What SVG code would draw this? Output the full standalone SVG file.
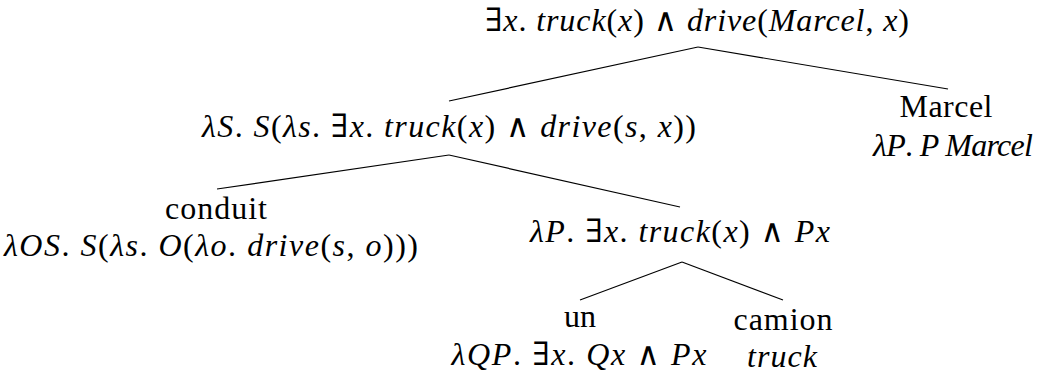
<svg xmlns="http://www.w3.org/2000/svg" width="1041" height="376" viewBox="0 0 1041 376">
<style>
.t{fill:#000;text-anchor:middle}
.i{font-style:italic}
.e{stroke:#000;stroke-width:1.2;fill:none}
</style>
<rect width="1041" height="376" fill="#fff"/>
<g id="connectors">
<line class="e" x1="698" y1="47" x2="449" y2="101"/>
<line class="e" x1="698" y1="47" x2="948" y2="89"/>
<line class="e" x1="449" y1="155" x2="217" y2="189"/>
<line class="e" x1="449" y1="155" x2="680" y2="207"/>
<line class="e" x1="682" y1="262" x2="580" y2="300"/>
<line class="e" x1="682" y1="262" x2="783" y2="300"/>
</g>
<g id="nodes" font-family="Liberation Serif, DejaVu Serif, serif" font-size="32">
<g id="n0">
<text class="t" x="697" y="31" textLength="424" lengthAdjust="spacing">∃<tspan class="i">x</tspan>. <tspan class="i">truck</tspan>(<tspan class="i">x</tspan>) ∧ <tspan class="i">drive</tspan>(<tspan class="i">Marcel</tspan>, <tspan class="i">x</tspan>)</text>
</g>
<g id="n1">
<text class="t" x="449" y="137" textLength="494" lengthAdjust="spacing"><tspan class="i">λS</tspan>. <tspan class="i">S</tspan>(<tspan class="i">λs</tspan>. ∃<tspan class="i">x</tspan>. <tspan class="i">truck</tspan>(<tspan class="i">x</tspan>) ∧ <tspan class="i">drive</tspan>(<tspan class="i">s</tspan>, <tspan class="i">x</tspan>))</text>
</g>
<g id="n2">
<text class="t" x="946" y="117" textLength="93" lengthAdjust="spacing">Marcel</text>
<text class="t" x="953" y="156" textLength="160" lengthAdjust="spacing"><tspan class="i">λP</tspan>. <tspan class="i">P Marcel</tspan></text>
</g>
<g id="n3">
<text class="t" x="216" y="219" textLength="102" lengthAdjust="spacing">conduit</text>
<text class="t" x="211" y="256" textLength="414" lengthAdjust="spacing"><tspan class="i">λOS</tspan>. <tspan class="i">S</tspan>(<tspan class="i">λs</tspan>. <tspan class="i">O</tspan>(<tspan class="i">λo</tspan>. <tspan class="i">drive</tspan>(<tspan class="i">s</tspan>, <tspan class="i">o</tspan>)))</text>
</g>
<g id="n4">
<text class="t" x="680" y="242" textLength="300" lengthAdjust="spacing"><tspan class="i">λP</tspan>. ∃<tspan class="i">x</tspan>. <tspan class="i">truck</tspan>(<tspan class="i">x</tspan>) ∧ <tspan class="i">Px</tspan></text>
</g>
<g id="n5">
<text class="t" x="580" y="327">un</text>
<text class="t" x="579" y="365" textLength="255" lengthAdjust="spacing"><tspan class="i">λQP</tspan>. ∃<tspan class="i">x</tspan>. <tspan class="i">Qx</tspan> ∧ <tspan class="i">Px</tspan></text>
</g>
<g id="n6">
<text class="t" x="783" y="330" textLength="99" lengthAdjust="spacing">camion</text>
<text class="t" x="782" y="367" textLength="70" lengthAdjust="spacing"><tspan class="i">truck</tspan></text>
</g>
</g>
</svg>
